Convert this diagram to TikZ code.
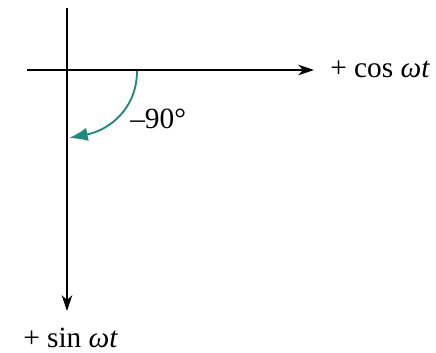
\documentclass[tikz,border=0pt]{standalone}
\usepackage{fontspec}
\setmainfont{Liberation Serif}
\usetikzlibrary{arrows.meta}

\begin{document}
\begin{tikzpicture}[x=0.75pt, y=-0.75pt]
    \definecolor{axisColour}{HTML}{000000}
    \definecolor{arcColour}{HTML}{1E8A7C}

    \useasboundingbox (0,0) rectangle (436,353);

    \coordinate (O) at (67,70); % origin of the axes

    % Axis end points
    \coordinate (left) at (27,70);
    \coordinate (right) at (314,70);
    \coordinate (top) at (67,8);
    \coordinate (bottom) at (67,311);

    % Draw axes
    \draw[axisColour, line width=1pt, -{Stealth[length=12pt, width=8pt]}] (left) -- (right);
    \draw[axisColour, line width=1pt, -{Stealth[length=12pt, width=8pt]}] (top) -- (bottom);

    % Axis labels
    \node[anchor=base west, font=\fontsize{22}{24}\selectfont, inner sep=0pt] (cosLabel) at (330,78) {+ cos \textit{ωt}};
    \node[anchor=base west, font=\fontsize{22}{24}\selectfont, inner sep=0pt] (sinLabel) at (23,347) {+ sin \textit{ωt}};

    % Draw the rotation arc
    \coordinate (arcStart) at (137,71);
    \coordinate (arcEnd) at (69,138);
    \draw[arcColour, line width=1.4pt, -{Latex[length=14pt, width=10pt]}] (arcStart) .. controls (137,108) and (110,130) .. (arcEnd);
    \node[anchor=base west, font=\fontsize{22}{24}\selectfont, inner sep=0pt] (angleLabel) at (130,128) {–90°};
\end{tikzpicture}
\end{document}
